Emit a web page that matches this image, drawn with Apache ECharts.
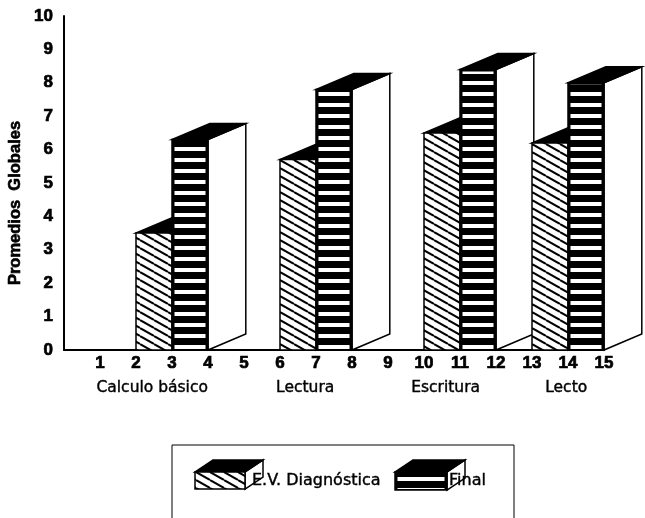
<!DOCTYPE html>
<html><head><meta charset="utf-8">
<script src="https://cdn.jsdelivr.net/npm/echarts@6/dist/echarts.min.js"></script>
<style>html,body{margin:0;padding:0;background:#fff}#c{width:645px;height:518px}</style>
</head><body><div id="c"></div>
<script>
// ---- data ----
const xTickLabels = ['1','2','3','4','5','6','7','8','9','10','11','12','13','14','15'];
const yTickLabels = ['0','1','2','3','4','5','6','7','8','9','10'];
const categories = ['Calculo básico','Lectura','Escritura','Lecto'];
const groupStartX = [2, 6, 10, 13];           // x value where each group's first bar starts
const diagnostico = [3.5, 5.7, 6.5, 6.2];     // E.V. Diagnóstica
const finalVals   = [6.3, 7.8, 8.4, 8.0];     // Final
const seriesNames = ['E.V. Diagnóstica', 'Final'];
const yTitle = 'Promedios  Globales';

// ---- layout (not data) ----
const categoryLabelX = [2.45, 6.7, 10.6, 13.95];

function makeHatch(){
  const c=document.createElement('canvas'); c.width=14; c.height=8;
  const g=c.getContext('2d'); g.fillStyle='#fff'; g.fillRect(0,0,14,8);
  g.strokeStyle='#000'; g.lineWidth=2;
  for(const k of [-8,0,8]){ g.beginPath(); g.moveTo(0,k); g.lineTo(14,k+8); g.stroke(); }
  return c;
}
function makeStripes(){
  const c=document.createElement('canvas'); c.width=4; c.height=11;
  const g=c.getContext('2d'); g.fillStyle='#000'; g.fillRect(0,0,4,11);
  g.fillStyle='#fff'; g.fillRect(0,4,4,4);
  return c;
}
const hatch={image:makeHatch(),repeat:'repeat'};
const stripes={image:makeStripes(),repeat:'repeat'};

const barData=[];
for(let i=0;i<categories.length;i++){
  barData.push([groupStartX[i], diagnostico[i], 0]);
  barData.push([groupStartX[i]+1, finalVals[i], 1]);
}

function box(L,R,T,B,dx,dy,kind){
  const w=R-L, ch=[];
  ch.push({type:'polygon',shape:{points:[[R,T],[R+dx,T+dy],[R+dx,B+dy],[R,B]]},style:{fill:'#fff',stroke:'#000',lineWidth:1.5}});
  ch.push({type:'polygon',shape:{points:[[L,T],[R,T],[R+dx,T+dy],[L+dx,T+dy]]},style:{fill:'#000',stroke:'#000',lineWidth:1.5}});
  if(kind===0){
    ch.push({type:'rect',shape:{x:L,y:T,width:w,height:B-T},style:{fill:hatch,stroke:'#000',lineWidth:1.5}});
  } else {
    ch.push({type:'rect',shape:{x:L,y:T,width:w,height:B-T},style:{fill:'#000',stroke:'#000',lineWidth:1.5}});
    ch.push({type:'rect',shape:{x:L+2.5,y:T+2,width:w-5,height:B-T-3},style:{fill:stripes}});
  }
  return ch;
}

function renderBar(params, api){
  const x0=api.value(0), v=api.value(1), kind=api.value(2);
  const p0=api.coord([x0,v]), p1=api.coord([x0+1,0]);
  const w=p1[0]-p0[0];
  return {type:'group',children:box(p0[0],p1[0],p0[1],p1[1],w*1.05,-16,kind)};
}
function renderLabel(params, api){
  const p=api.coord([api.value(0),0]);
  return {type:'text',style:{text:categories[api.value(2)],x:p[0],y:p[1]+38,
    align:'center',verticalAlign:'middle',fontFamily:'DejaVu Sans',fontSize:15.5,fill:'#000',
    stroke:'#000',lineWidth:0.4}};
}

const chart=echarts.init(document.getElementById('c'),null,{renderer:'canvas'});
const legendFont={fontFamily:'DejaVu Sans',fontSize:16,fill:'#000',stroke:'#000',lineWidth:0.4};
const tickFont={color:'#000',fontFamily:'Liberation Sans',fontWeight:'bold',fontSize:17,textBorderColor:'#000',textBorderWidth:0.7};
chart.setOption({
  backgroundColor:'#fff',
  animation:false,
  grid:{left:64,right:41,top:16,bottom:168},
  xAxis:{type:'value',min:0,max:15,interval:1,
    axisLine:{show:true,lineStyle:{color:'#000',width:2}},axisTick:{show:false},splitLine:{show:false},
    axisLabel:Object.assign({margin:5,showMinLabel:false,showMaxLabel:true,
      formatter:v=>v===0?'':(xTickLabels[v-1]||'')},tickFont)},
  yAxis:{type:'value',min:0,max:10,interval:1,
    axisLine:{show:true,lineStyle:{color:'#000',width:2}},axisTick:{show:false},splitLine:{show:false},
    axisLabel:Object.assign({margin:11,formatter:v=>yTickLabels[v]},tickFont)},
  series:[
    {type:'custom',name:'bars',renderItem:renderBar,data:barData,encode:{x:0,y:1},clip:false,z:2},
    {type:'custom',name:'labels',renderItem:renderLabel,
      data:categoryLabelX.map((x,i)=>[x,0,i]),encode:{x:0,y:1},clip:false,z:3}
  ],
  graphic:[
    {type:'text',x:15,y:203,rotation:Math.PI/2,
      style:{text:yTitle,align:'center',verticalAlign:'middle',fontFamily:'Liberation Sans',fontWeight:'bold',fontSize:16.5,fill:'#000',stroke:'#000',lineWidth:0.6}},
    {type:'rect',shape:{x:172,y:445,width:342,height:100},style:{fill:'none',stroke:'#000',lineWidth:1}},
    {type:'group',children:box(195,245,472,489,18,-12,0)},
    {type:'text',x:252,y:481,style:Object.assign({text:seriesNames[0],verticalAlign:'middle'},legendFont)},
    {type:'group',children:box(395,447,472,490,18,-12,1)},
    {type:'text',x:449,y:481,style:Object.assign({text:seriesNames[1],verticalAlign:'middle'},legendFont)}
  ]
});
</script></body></html>
